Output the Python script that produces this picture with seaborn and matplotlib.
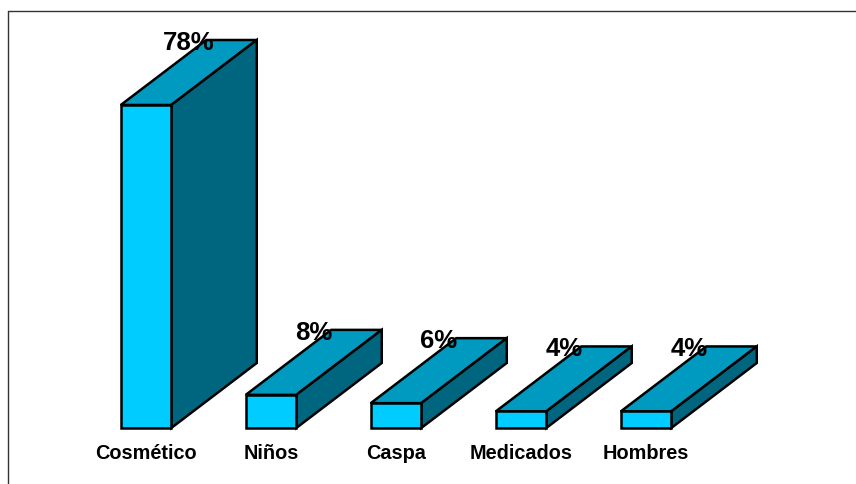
import matplotlib
matplotlib.use("Agg")
import matplotlib.pyplot as plt
from matplotlib.lines import Line2D
from matplotlib.patches import Polygon
import pandas as pd
import seaborn as sns

categories = ["Cosmético", "Niños", "Caspa", "Medicados", "Hombres"]
shares = [78, 8, 6, 4, 4]
value_labels = ["78%", "8%", "6%", "4%", "4%"]

FRONT = "#00CCFF"
TOP = "#0099BF"
SIDE = "#006680"
EDGE_W = 1.8

W, H = 856, 485
sns.set_theme(style="white")
plt.rcParams["font.family"] = ["Liberation Sans", "DejaVu Sans"]

fig = plt.figure(figsize=(W / 100, H / 100), dpi=100, facecolor="white")

# Plot area in pixels: one category is 125 px wide, one percent is about 4.14 px tall
left, right, base, top = 83.5, 708.5, 429.0, 41.0
ax = fig.add_axes([left / W, 1 - base / H, (right - left) / W, (base - top) / H])
px_per_pct = 323 / 78
ymax = (base - top) / px_per_pct

df = pd.DataFrame({"segment": categories, "share": shares})
sns.barplot(data=df, x="segment", y="share", color=FRONT, saturation=1, width=0.404,
            edgecolor="black", linewidth=EDGE_W, zorder=3, ax=ax)
ax.set_xlim(-0.5, 4.5)
ax.set_ylim(0, ymax)
ax.set_xlabel("")
ax.set_ylabel("")
ax.set_yticks([])
ax.tick_params(axis="x", length=0, pad=10.5, labelsize=14.3)
for lbl in ax.get_xticklabels():
    lbl.set_fontweight("bold")
    lbl.set_color("black")
sns.despine(ax=ax, left=True, bottom=True)
ax.patch.set_alpha(0)

# Oblique depth of each block, in data units
depth_x = 85.5 / 125
depth_y = 65 / px_per_pct

for patch, label in zip(ax.patches, value_labels):
    patch.set_joinstyle("miter")
    patch.set_clip_on(False)
    x0, x1 = patch.get_x(), patch.get_x() + patch.get_width()
    h = patch.get_height()
    top_face = [(x0, h), (x1, h), (x1 + depth_x, h + depth_y), (x0 + depth_x, h + depth_y)]
    side_face = [(x1, 0), (x1 + depth_x, depth_y), (x1 + depth_x, h + depth_y), (x1, h)]
    for verts, colour in ((top_face, TOP), (side_face, SIDE)):
        ax.add_patch(Polygon(verts, closed=True, facecolor=colour, edgecolor="black",
                             linewidth=EDGE_W, joinstyle="miter", zorder=2, clip_on=False))
    ax.annotate(label, xy=((x0 + x1) / 2 + depth_x / 2, h + depth_y), xytext=(0, -9),
                textcoords="offset pixels", ha="center", va="baseline",
                fontsize=18.5, fontweight="bold", color="black", zorder=5,
                annotation_clip=False)

# Thin frame along the top and left of the slide
fx = 8.0 / W
fy = 1 - 12.0 / H
fig.add_artist(Line2D([fx, 1], [fy, fy], color="#333333", lw=1.0, transform=fig.transFigure))
fig.add_artist(Line2D([fx, fx], [fy, 0], color="#333333", lw=1.0, transform=fig.transFigure))

fig.savefig("out.png", dpi=100, facecolor="white")
